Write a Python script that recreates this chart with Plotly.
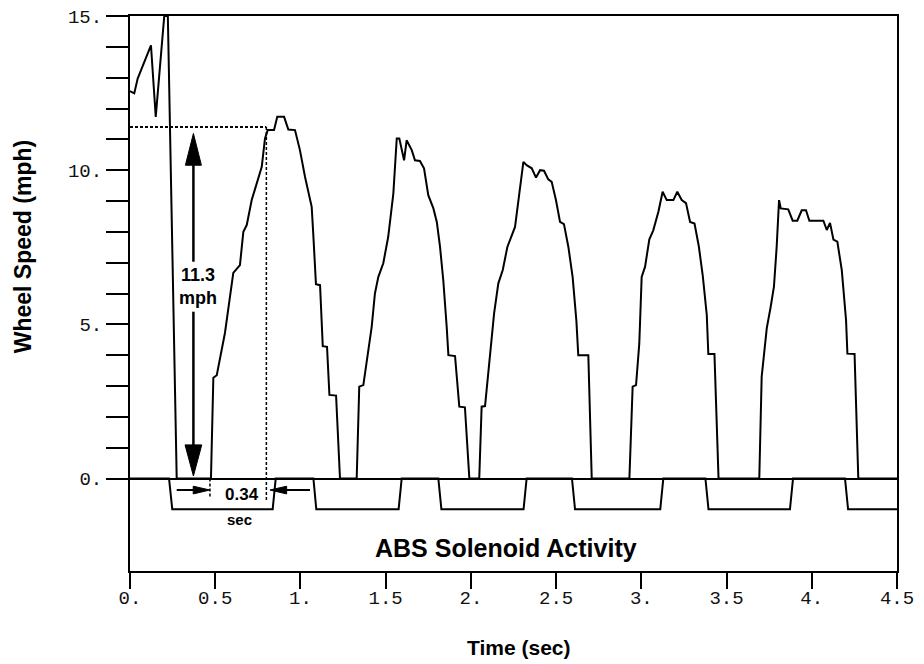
import plotly.graph_objects as go

# ---- data ----
wheel_t = [
    0.0, 0.025, 0.045, 0.123, 0.151, 0.201, 0.222, 0.235, 0.245, 0.26, 0.274,
    0.475, 0.489, 0.509, 0.557, 0.606, 0.645, 0.665, 0.685, 0.714, 0.743, 0.773, 0.792, 0.808, 0.845,
    0.864, 0.904, 0.929, 0.968, 0.997, 1.027, 1.066, 1.075, 1.091, 1.115, 1.131, 1.156, 1.17, 1.209, 1.232,
    1.33, 1.345, 1.369, 1.398, 1.418, 1.437, 1.457, 1.486, 1.515, 1.545, 1.565, 1.58, 1.608, 1.623,
    1.653, 1.672, 1.701, 1.725, 1.75, 1.78, 1.8, 1.819, 1.838, 1.858, 1.868, 1.907, 1.932, 1.965, 1.991,
    2.049, 2.063, 2.083, 2.112, 2.136, 2.161, 2.187, 2.214, 2.259, 2.284, 2.308, 2.327, 2.357, 2.382,
    2.406, 2.429, 2.454, 2.474, 2.499, 2.523, 2.546, 2.572, 2.597, 2.619, 2.63, 2.689, 2.709,
    2.93, 2.949, 2.969, 2.988, 3.002, 3.022, 3.047, 3.07, 3.1, 3.125, 3.149, 3.188, 3.211, 3.237,
    3.262, 3.286, 3.312, 3.337, 3.36, 3.384, 3.393, 3.429, 3.453,
    3.692, 3.706, 3.736, 3.759, 3.778, 3.794, 3.808, 3.818, 3.862, 3.888, 3.915, 3.941, 3.966, 3.986,
    4.068, 4.088, 4.107, 4.127, 4.15, 4.176, 4.201, 4.209, 4.251, 4.273, 4.5,
]
wheel_v = [
    12.56, 12.49, 12.97, 14.05, 11.73, 15.0, 15.0, 11.4, 7.96, 4.72, 0.0,
    0.0, 3.27, 3.35, 4.72, 6.67, 6.92, 8.0, 8.22, 9.03, 9.57, 10.11, 11.03, 11.3, 11.3,
    11.73, 11.73, 11.32, 11.3, 10.65, 9.78, 8.81, 7.95, 6.3, 6.27, 4.29, 4.27, 2.71, 2.69, 0.0,
    0.0, 2.98, 3.03, 4.17, 4.92, 6.0, 6.54, 6.98, 7.84, 9.24, 11.03, 11.03, 10.32, 10.97,
    10.65, 10.32, 10.3, 10.06, 9.19, 8.76, 8.32, 7.51, 6.43, 4.92, 4.0, 3.97, 2.33, 2.31, 0.0,
    0.0, 2.33, 2.35, 3.95, 5.35, 6.33, 6.76, 7.51, 8.16, 9.24, 10.27, 10.16, 10.06, 9.76,
    10.0, 9.98, 9.7, 9.62, 9.03, 8.32, 8.25, 7.51, 6.53, 5.11, 4.0, 4.0, 0.0,
    0.0, 2.98, 3.03, 4.38, 6.54, 6.87, 7.76, 8.05, 8.65, 9.3, 9.03, 9.03, 9.3, 9.03,
    8.93, 8.32, 8.27, 7.54, 6.6, 5.3, 4.04, 4.04, 0.0,
    0.0, 3.3, 4.88, 5.57, 6.22, 7.51, 9.03, 8.76, 8.73, 8.36, 8.36, 8.7, 8.7, 8.36,
    8.36, 8.06, 8.29, 7.75, 7.68, 6.76, 5.14, 4.05, 4.04, 0.0, 0.0,
]

solenoid_t = [0.0, 0.229, 0.248, 0.837, 0.855, 1.076, 1.093, 1.576, 1.594, 1.809, 1.827, 2.309,
              2.327, 2.593, 2.611, 3.111, 3.129, 3.376, 3.394, 3.872, 3.89, 4.195, 4.213, 4.5]
solenoid_v = [0, 0, -1, -1, 0, 0, -1, -1, 0, 0, -1, -1,
              0, 0, -1, -1, 0, 0, -1, -1, 0, 0, -1, -1]

x_ticks = [0, 0.5, 1, 1.5, 2, 2.5, 3, 3.5, 4, 4.5]
x_ticktext = ["0.", "0.5", "1.", "1.5", "2.", "2.5", "3.", "3.5", "4.", "4.5"]
y_ticks = list(range(0, 16))
y_ticktext = ["0." if v == 0 else ("%d." % v if v % 5 == 0 else "") for v in y_ticks]

# annotation values
peak_level = 11.4       # dotted reference level (mph)
t_peak = 0.80           # time of reaching level
t_start = 0.469         # time wheel speed starts rising
t_arrow = 0.372         # vertical double-arrow position

fig = go.Figure()
fig.add_trace(go.Scatter(x=solenoid_t, y=solenoid_v, mode="lines",
                         line=dict(color="black", width=2), hoverinfo="skip"))
fig.add_trace(go.Scatter(x=wheel_t, y=wheel_v, mode="lines",
                         line=dict(color="black", width=2), hoverinfo="skip"))

dot = "3px,2px"
shapes = [
    dict(type="line", x0=0, x1=t_peak, y0=peak_level, y1=peak_level,
         line=dict(color="black", width=2, dash=dot)),
    dict(type="line", x0=t_peak, x1=t_peak, y0=peak_level, y1=-0.7,
         line=dict(color="black", width=1.5, dash=dot)),
    dict(type="line", x0=t_start, x1=t_start, y0=0, y1=-0.63,
         line=dict(color="black", width=1.5, dash=dot)),
    dict(type="line", x0=t_arrow, x1=t_arrow, y0=10.2, y1=7.03,
         line=dict(color="black", width=2.5)),
    dict(type="line", x0=t_arrow, x1=t_arrow, y0=5.41, y1=1.05,
         line=dict(color="black", width=2.5)),
    dict(type="path", path=f"M {t_arrow-0.047},10.16 L {t_arrow},11.19 L {t_arrow+0.047},10.16 Z",
         fillcolor="black", line=dict(color="black", width=1)),
    dict(type="path", path=f"M {t_arrow-0.049},1.09 L {t_arrow},0.08 L {t_arrow+0.049},1.09 Z",
         fillcolor="black", line=dict(color="black", width=1)),
    dict(type="line", x0=0.274, x1=0.38, y0=-0.373, y1=-0.373,
         line=dict(color="black", width=2)),
    dict(type="path", path="M 0.371,-0.25 L 0.469,-0.373 L 0.371,-0.50 Z",
         fillcolor="black", line=dict(color="black", width=1)),
    dict(type="line", x0=0.91, x1=1.056, y0=-0.373, y1=-0.373,
         line=dict(color="black", width=2)),
    dict(type="path", path="M 0.919,-0.25 L 0.821,-0.373 L 0.919,-0.50 Z",
         fillcolor="black", line=dict(color="black", width=1)),
]

bold = dict(family="Liberation Sans, Arial, sans-serif", color="black", weight="bold")
annotations = [
    dict(x=0.396, y=6.24, xref="x", yref="y", text="11.3<br>mph", showarrow=False,
         font=dict(size=18, **bold)),
    dict(x=0.658, y=-0.53, xref="x", yref="y", text="0.34", showarrow=False,
         font=dict(size=17, **bold)),
    dict(x=0.644, y=-1.33, xref="x", yref="y", text="sec", showarrow=False,
         font=dict(size=15, **bold)),
    dict(x=2.206, y=-2.25, xref="x", yref="y", text="ABS Solenoid Activity", showarrow=False,
         font=dict(size=25, **bold)),
    dict(x=-0.1395, y=7.5, xref="paper", yref="y", text="Wheel Speed (mph)", showarrow=False,
         xanchor="center", yanchor="middle",
         textangle=-90, font=dict(size=23, **bold)),
    dict(x=0.507, y=-0.1387, xref="paper", yref="paper", text="Time (sec)", showarrow=False,
         xanchor="center", yanchor="middle",
         font=dict(size=21, **bold)),
]

mono = dict(family="Liberation Mono, Courier New, monospace", size=19, color="#111")
fig.update_layout(
    width=924, height=664,
    margin=dict(l=122, r=35, t=8, b=101, autoexpand=False),
    paper_bgcolor="white", plot_bgcolor="white",
    showlegend=False,
    shapes=shapes, annotations=annotations,
    xaxis=dict(range=[0, 4.5], tickvals=x_ticks, ticktext=x_ticktext,
               ticks="outside", ticklen=16, tickwidth=1.5, tickcolor="black",
               showline=True, linewidth=2, linecolor="black", mirror=True,
               showgrid=False, zeroline=False, tickfont=mono, automargin=False,
               ticklabeloverflow="allow", ticklabelstandoff=-8),
    yaxis=dict(range=[-3, 15], tickvals=y_ticks, ticktext=y_ticktext,
               ticks="outside", ticklen=22, tickwidth=1.5, tickcolor="black",
               showline=True, linewidth=2, linecolor="black", mirror=True,
               showgrid=False, zeroline=True, zerolinecolor="black", zerolinewidth=2,
               tickfont=mono, automargin=False, ticklabeloverflow="allow"),
)

fig.write_html("out.html")
